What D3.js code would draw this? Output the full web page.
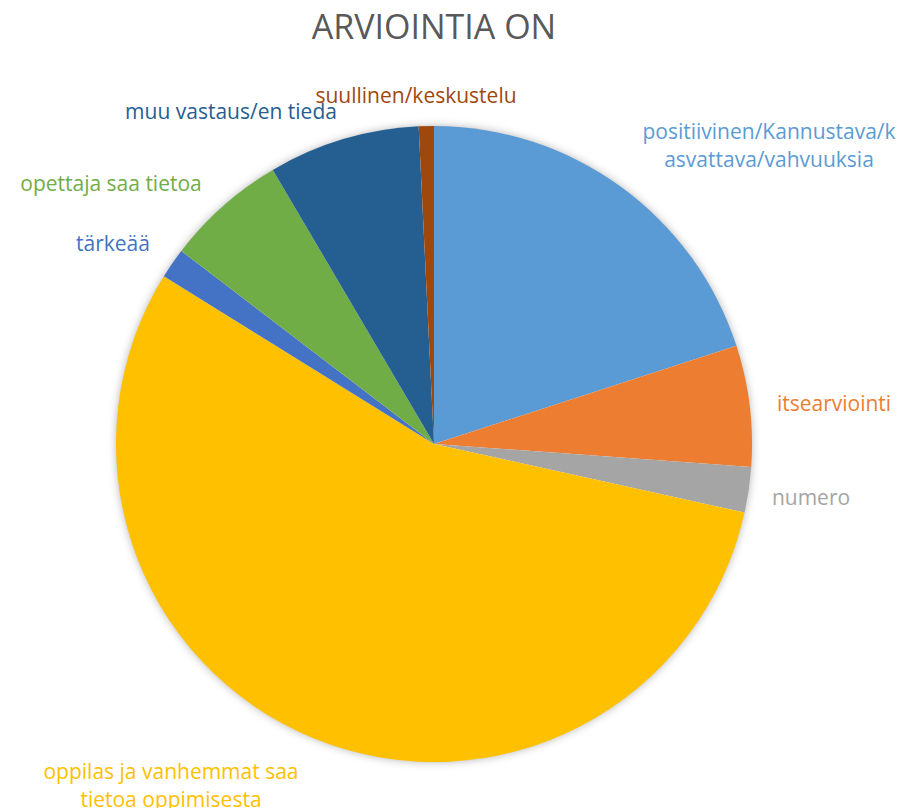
<!DOCTYPE html>
<html>
<head>
    <meta charset="utf-8">
    <title>Arviointia on</title>
    <style>
        body { margin: 0; background: #fff; }
        svg { display: block; }
        .title { font-family: "Open Sans", Lato, sans-serif; font-size: 34px; fill: #595959; text-anchor: middle; }
        .label { font-family: "Open Sans", Lato, sans-serif; font-size: 21px; text-anchor: middle; }
    </style>
</head>
<body>
<svg id="chart" width="907" height="808"></svg>
<script src="https://d3js.org/d3.v7.min.js"></script>
<script>
    // answers, clockwise from 12 o'clock
    const categories = [
        "positiivinen/Kannustava/kasvattava/vahvuuksia",
        "itsearviointi",
        "numero",
        "oppilas ja vanhemmat saa tietoa oppimisesta",
        "tärkeää",
        "opettaja saa tietoa",
        "muu vastaus/en tieda",
        "suullinen/keskustelu"
    ];
    const counts = [26, 8, 3, 72, 2, 8, 10, 1];
    const colors = ["#5B9BD5", "#ED7D31", "#A5A5A5", "#FFC000", "#4472C4", "#70AD47", "#255E91", "#9E480E"];
    // label lines as wrapped in the chart
    const labelLines = [
        ["positiivinen/Kannustava/k", "asvattava/vahvuuksia"],
        ["itsearviointi"],
        ["numero"],
        ["oppilas ja vanhemmat saa", "tietoa oppimisesta"],
        ["tärkeää"],
        ["opettaja saa tietoa"],
        ["muu vastaus/en tieda"],
        ["suullinen/keskustelu"]
    ];
    // label anchor (centre of first baseline)
    const labelPos = [[769, 139], [834, 411], [811, 505], [171, 779], [113, 251], [111, 191], [231, 119], [416, 103]];

    const svg = d3.select('#chart');
    const cx = 434, cy = 444, r = 318;

    svg.append('text').attr('class', 'title')
        .attr('x', 434).attr('y', 39).text('ARVIOINTIA ON');

    const defs = svg.append('defs');
    const f = defs.append('filter').attr('id', 'shadow')
        .attr('x', '-10%').attr('y', '-10%').attr('width', '120%').attr('height', '120%');
    f.append('feDropShadow').attr('dx', 0).attr('dy', 0)
        .attr('stdDeviation', 5).attr('flood-color', '#000').attr('flood-opacity', 0.35);

    const pie = d3.pie().sort(null).value(d => d);
    const arc = d3.arc().innerRadius(0).outerRadius(r);
    const arcs = pie(counts);

    const g = svg.append('g').attr('transform', `translate(${cx},${cy})`);
    g.append('circle').attr('r', r - 1).attr('fill', '#fff').attr('filter', 'url(#shadow)');
    g.selectAll('path.slice')
        .data(arcs)
        .join('path')
        .attr('class', 'slice')
        .attr('d', arc)
        .attr('fill', (d, i) => colors[i]);

    const labels = svg.selectAll('text.label')
        .data(categories)
        .join('text')
        .attr('class', 'label')
        .attr('fill', (d, i) => colors[i])
        .attr('transform', (d, i) => `translate(${labelPos[i][0]},${labelPos[i][1]})`);
    labels.each(function(d, i) {
        d3.select(this).selectAll('tspan')
            .data(labelLines[i])
            .join('tspan')
            .attr('x', 0)
            .attr('dy', (t, j) => j === 0 ? 0 : 28)
            .text(t => t);
    });
</script>
</body>
</html>
